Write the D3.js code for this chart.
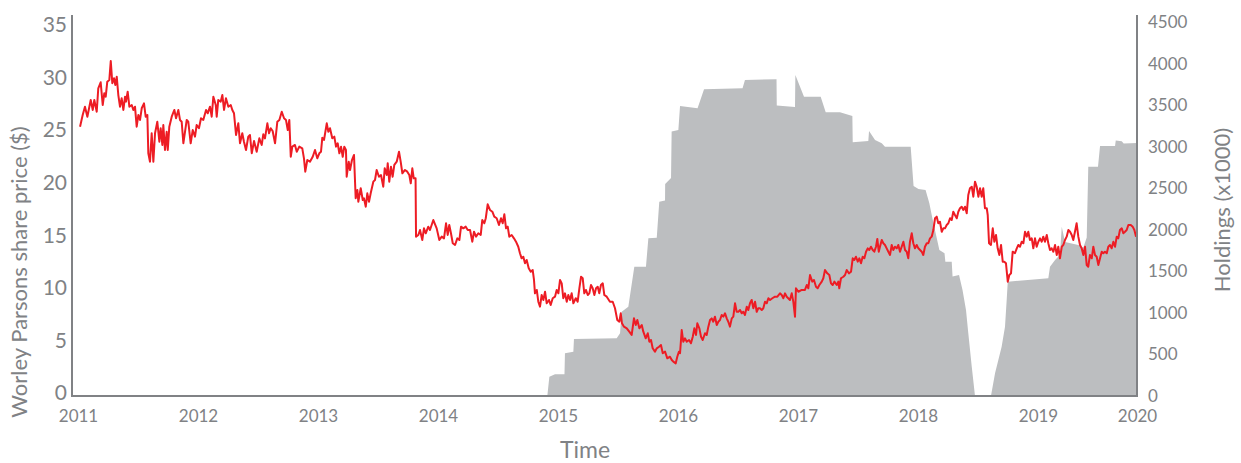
<!DOCTYPE html>
<html>
<head>
<meta charset="utf-8">
<script src="https://cdn.jsdelivr.net/npm/d3@7"></script>
<style>
body { margin: 0; background: #fff; }
</style>
</head>
<body>
<script>
// share price, [decimal year, $]
var priceSeries = [
[2011.017,25.33],[2011.039,26.44],[2011.058,27.23],[2011.078,26.28],[2011.106,27.87],[2011.123,26.92],[2011.136,27.87],[2011.156,26.75],[2011.169,28.98],[2011.189,29.55],
[2011.206,27.39],[2011.219,28.50],[2011.231,28.18],[2011.244,29.61],[2011.261,29.77],[2011.273,31.58],[2011.286,29.46],[2011.300,29.93],[2011.311,29.29],[2011.323,30.08],
[2011.336,28.34],[2011.350,27.23],[2011.364,28.03],[2011.378,26.92],[2011.392,28.18],[2011.400,27.71],[2011.414,28.66],[2011.428,27.23],[2011.448,27.39],[2011.461,26.92],
[2011.475,27.23],[2011.489,25.33],[2011.503,26.44],[2011.517,25.97],[2011.531,27.08],[2011.550,27.55],[2011.564,26.28],[2011.578,26.44],[2011.586,22.80],[2011.600,22.00],
[2011.614,24.70],[2011.628,22.00],[2011.642,24.70],[2011.661,25.80],[2011.678,23.90],[2011.689,25.18],[2011.703,23.59],[2011.711,25.49],[2011.725,23.11],[2011.739,24.85],
[2011.748,23.11],[2011.761,25.33],[2011.781,26.28],[2011.803,26.92],[2011.817,26.13],[2011.836,26.92],[2011.850,25.97],[2011.864,25.80],[2011.878,23.75],[2011.892,24.85],
[2011.906,25.97],[2011.919,25.80],[2011.939,23.75],[2011.956,25.01],[2011.975,24.38],[2011.989,25.49],[2012.008,25.18],[2012.025,26.13],[2012.044,25.97],[2012.067,26.92],
[2012.081,26.60],[2012.100,27.23],[2012.114,26.28],[2012.128,28.18],[2012.148,27.39],[2012.156,26.28],[2012.169,27.87],[2012.189,27.71],[2012.203,28.34],[2012.217,26.92],
[2012.233,28.03],[2012.253,27.23],[2012.273,27.39],[2012.286,26.92],[2012.300,26.60],[2012.317,24.54],[2012.336,25.65],[2012.350,23.75],[2012.369,24.70],[2012.383,23.90],
[2012.400,23.11],[2012.419,24.38],[2012.433,24.54],
[2012.448,22.80],[2012.467,23.97],[2012.489,22.95],[2012.511,24.22],[2012.531,23.59],[2012.544,24.60],[2012.558,24.22],[2012.578,25.65],[2012.592,24.70],[2012.606,25.18],
[2012.622,24.92],[2012.642,23.75],[2012.661,25.80],[2012.678,25.97],[2012.698,26.75],[2012.717,26.13],[2012.733,25.97],[2012.748,25.01],[2012.761,25.97],[2012.773,22.47],
[2012.786,23.43],[2012.808,23.59],[2012.823,22.95],[2012.844,23.43],[2012.869,23.27],[2012.883,22.32],[2012.894,21.05],[2012.911,22.16],[2012.933,22.00],[2012.956,22.47],
[2012.975,23.11],[2012.994,22.32],[2013.011,22.80],[2013.025,22.95],[2013.036,24.28],[2013.050,24.06],[2013.073,25.65],[2013.086,24.85],[2013.100,25.18],[2013.119,24.22],
[2013.136,24.38],[2013.150,23.43],[2013.164,23.75],[2013.178,22.80],[2013.192,23.43],[2013.206,22.47],[2013.219,23.43],[2013.233,23.11],[2013.239,20.57],[2013.256,22.00],
[2013.267,21.21],[2013.283,22.16],[2013.300,22.64],[2013.314,18.52],[2013.328,19.31],[2013.336,18.19],[2013.356,19.47],[2013.373,18.36],[2013.383,18.52],[2013.398,17.72],
[2013.411,18.99],[2013.425,18.19],[2013.439,18.99],[2013.461,20.10],[2013.475,20.26],[2013.489,21.21],[2013.508,20.57],[2013.525,20.73],[2013.544,19.62],[2013.556,21.37],
[2013.573,20.73],[2013.581,21.85],[2013.594,20.10],[2013.608,21.52],[2013.622,20.57],[2013.636,21.69],[2013.656,22.00],[2013.675,22.95],[2013.689,22.00],[2013.703,20.90],
[2013.725,21.21],[2013.744,21.05],[2013.761,20.73],[2013.773,19.94],[2013.786,21.37],[2013.798,20.42],[2013.813,20.42],[2013.817,14.87],[2013.836,15.03],[2013.850,15.50],
[2013.869,14.55],[2013.883,15.66],[2013.898,15.19],[2013.919,15.82],
[2013.933,15.50],[2013.961,16.45],[2013.989,15.66],[2014.011,14.55],[2014.031,14.87],[2014.050,14.71],[2014.067,16.14],[2014.081,15.03],[2014.094,15.98],[2014.108,15.19],
[2014.123,14.24],[2014.142,14.08],[2014.161,14.71],[2014.178,14.55],[2014.192,15.82],[2014.211,15.66],[2014.231,15.82],[2014.248,15.50],[2014.267,15.50],[2014.286,14.39],
[2014.300,15.34],[2014.317,14.87],[2014.336,15.19],[2014.356,15.03],[2014.369,16.45],[2014.386,16.14],[2014.398,16.62],[2014.414,17.95],[2014.433,17.41],[2014.453,17.24],
[2014.469,16.77],[2014.489,16.62],[2014.508,15.98],[2014.525,16.62],[2014.539,16.14],[2014.553,17.00],[2014.567,15.66],[2014.581,15.82],[2014.594,14.87],[2014.614,15.03],
[2014.633,14.71],[2014.650,14.39],[2014.669,13.91],[2014.683,13.29],[2014.697,12.81],[2014.711,12.96],[2014.725,12.34],[2014.739,12.65],[2014.756,11.86],[2014.773,11.54],
[2014.789,11.70],[2014.800,10.75],[2014.808,9.48],[2014.823,9.80],[2014.836,8.68],[2014.850,8.21],[2014.864,9.32],[2014.878,8.85],[2014.892,9.63],[2014.906,8.53],
[2014.925,8.85],[2014.939,8.37],[2014.956,9.01],[2014.975,9.16],[2014.989,9.80],[2015.003,9.48],[2015.017,10.75],[2015.031,10.43],[2015.044,9.01],[2015.058,9.48],
[2015.073,8.68],[2015.086,9.32],[2015.100,8.85],[2015.114,9.48],[2015.128,8.53],[2015.148,9.01],[2015.164,8.68],[2015.178,9.96],[2015.192,11.06],[2015.206,10.91],
[2015.219,9.48],[2015.233,9.80],[2015.248,9.32],[2015.261,9.48],[2015.275,10.27],[2015.289,9.96],[2015.303,9.32],[2015.317,9.96],[2015.331,10.11],[2015.344,9.48],
[2015.358,10.27],[2015.373,10.43],[2015.386,9.32],[2015.406,9.16],[2015.433,8.68],
[2015.456,8.68],[2015.475,8.06],[2015.494,6.94],[2015.511,6.78],[2015.523,7.58],[2015.533,6.63],[2015.550,6.31],[2015.573,6.15],[2015.594,5.83],[2015.614,5.52],
[2015.633,7.10],[2015.648,6.47],[2015.661,6.94],[2015.678,6.15],[2015.698,6.47],[2015.711,5.83],[2015.731,5.20],[2015.748,5.68],[2015.761,4.88],[2015.775,5.04],
[2015.789,4.25],[2015.808,3.93],[2015.823,4.25],[2015.842,4.40],[2015.858,4.57],[2015.873,3.78],[2015.892,3.93],[2015.911,3.30],[2015.933,3.45],[2015.948,3.14],
[2015.961,2.98],[2015.981,2.82],[2015.994,3.45],[2016.008,3.93],[2016.017,3.78],[2016.031,5.99],[2016.044,4.88],[2016.058,5.20],[2016.073,4.88],[2016.092,5.04],
[2016.108,4.73],[2016.123,5.35],[2016.136,6.15],[2016.150,5.52],[2016.161,6.63],[2016.178,6.15],[2016.192,5.35],[2016.206,5.04],[2016.225,5.68],[2016.239,5.52],
[2016.253,6.31],[2016.267,6.94],[2016.281,7.10],[2016.294,6.78],[2016.308,7.26],[2016.323,6.47],[2016.336,6.78],[2016.350,6.94],[2016.364,7.42],[2016.378,7.26],
[2016.392,7.58],[2016.406,7.10],[2016.419,6.78],[2016.433,6.31],[2016.448,7.10],[2016.461,7.26],[2016.475,8.53],[2016.489,7.73],[2016.503,7.73],[2016.517,7.89],
[2016.531,7.58],[2016.544,7.73],[2016.558,7.42],[2016.573,8.21],[2016.586,7.89],[2016.600,8.53],[2016.614,8.85],[2016.628,8.06],[2016.642,8.68],[2016.656,7.73],
[2016.669,8.06],[2016.683,8.06],[2016.698,7.89],[2016.711,8.06],[2016.725,8.68],[2016.739,8.53],[2016.753,9.01],[2016.767,8.85],[2016.786,9.01],[2016.808,9.16],
[2016.828,9.16],[2016.850,9.48],[2016.864,9.32],[2016.878,9.01],[2016.892,9.48],[2016.906,9.16],[2016.933,8.85],
[2016.948,9.48],[2016.961,8.68],[2016.975,7.26],[2016.983,9.96],[2017.003,9.63],[2017.031,9.80],[2017.058,9.80],[2017.073,10.27],[2017.086,9.96],[2017.100,11.22],
[2017.119,10.59],[2017.133,10.75],[2017.150,10.11],[2017.164,9.96],[2017.178,10.27],[2017.198,10.59],[2017.211,10.91],[2017.225,11.70],[2017.244,11.38],[2017.261,11.22],
[2017.275,10.43],[2017.289,10.27],[2017.303,10.59],[2017.323,10.27],[2017.336,10.59],[2017.344,9.96],[2017.358,10.91],[2017.378,11.06],[2017.392,11.22],[2017.406,11.70],
[2017.425,11.38],[2017.442,11.54],[2017.456,12.81],[2017.469,12.65],[2017.483,12.96],[2017.498,12.49],[2017.511,12.81],[2017.525,12.34],[2017.539,12.96],[2017.553,12.81],
[2017.567,13.44],[2017.581,13.76],[2017.594,13.60],[2017.608,13.91],[2017.623,13.60],[2017.636,13.44],[2017.650,13.91],[2017.661,14.65],[2017.673,13.44],[2017.683,13.91],
[2017.698,14.55],[2017.711,14.24],[2017.725,14.08],[2017.739,13.76],[2017.753,13.44],[2017.767,13.13],[2017.781,14.08],[2017.794,13.60],[2017.808,13.91],[2017.823,13.76],
[2017.836,14.08],[2017.850,13.44],[2017.864,13.91],[2017.878,14.39],[2017.892,13.60],[2017.906,13.44],[2017.919,12.81],[2017.933,14.39],[2017.948,15.19],[2017.961,14.24],
[2017.975,13.76],[2017.989,14.08],[2018.003,13.76],[2018.017,13.60],[2018.031,13.44],[2018.044,13.13],[2018.058,13.91],[2018.073,14.24],[2018.086,14.24],[2018.100,14.71],
[2018.114,14.87],[2018.128,15.50],[2018.142,16.62],[2018.156,16.77],[2018.169,16.14],[2018.183,16.29],[2018.198,15.34],[2018.211,15.66],[2018.225,15.66],[2018.239,15.98],
[2018.253,16.14],[2018.267,16.62],[2018.281,16.45],[2018.294,17.24],[2018.308,16.93],[2018.323,16.62],[2018.336,17.24],[2018.350,17.57],[2018.364,17.72],[2018.378,17.41],
[2018.392,17.72],[2018.406,17.09],[2018.419,18.83],
[2018.433,19.47],[2018.448,19.62],[2018.461,18.67],[2018.475,20.10],[2018.489,19.62],[2018.503,18.67],[2018.517,19.47],[2018.531,18.67],[2018.544,19.47],[2018.558,17.57],
[2018.573,17.57],[2018.581,16.93],[2018.592,14.24],[2018.608,14.08],[2018.623,15.66],[2018.636,14.39],[2018.650,15.03],[2018.664,13.76],[2018.678,13.13],[2018.692,14.08],
[2018.706,12.49],[2018.719,12.49],[2018.733,12.34],[2018.748,10.59],[2018.761,11.22],[2018.775,11.38],[2018.789,13.44],[2018.808,13.29],[2018.823,13.76],[2018.836,14.08],
[2018.850,13.91],[2018.864,14.39],[2018.878,14.24],[2018.892,15.34],[2018.906,14.87],[2018.919,15.34],[2018.933,14.55],[2018.948,14.71],[2018.961,13.76],[2018.975,14.71],
[2018.989,13.91],[2019.003,14.39],[2019.017,14.71],[2019.031,14.39],[2019.044,14.87],[2019.058,14.39],[2019.073,15.03],[2019.086,14.24],[2019.100,13.60],[2019.114,13.76],
[2019.128,13.44],[2019.142,14.08],[2019.156,13.13],[2019.169,13.91],[2019.183,12.81],[2019.198,13.91],[2019.211,14.08],[2019.225,14.55],[2019.239,14.87],[2019.253,15.50],
[2019.267,15.34],[2019.281,15.03],[2019.294,14.55],[2019.308,15.34],[2019.322,16.14],[2019.336,14.87],[2019.350,14.08],[2019.364,13.76],[2019.378,13.13],[2019.392,13.91],
[2019.406,12.17],[2019.419,12.01],[2019.433,13.13],[2019.448,12.81],[2019.461,13.91],[2019.475,13.13],[2019.489,12.96],[2019.503,12.17],[2019.517,12.81],[2019.531,13.44],
[2019.544,13.29],[2019.558,13.44],[2019.573,13.29],[2019.586,13.91],[2019.600,14.08],[2019.614,13.76],[2019.628,14.39],[2019.642,13.91],[2019.656,14.87],[2019.669,14.71],
[2019.683,15.50],[2019.698,15.66],[2019.711,15.19],[2019.725,15.34],[2019.739,15.50],[2019.753,15.98],[2019.773,15.98],[2019.789,15.82],[2019.803,15.50],[2019.817,14.87]
];

// holdings (x1000), [decimal year, value]
var holdingsSeries = [
[2014.911,0],[2014.928,232],[2014.975,261],[2015.054,261],[2015.058,514],[2015.128,533],[2015.133,686],[2015.489,694],
[2015.517,755],[2015.531,1014],[2015.586,1075],[2015.636,1556],[2015.733,1556],[2015.753,1898],[2015.823,1905],[2015.844,2338],
[2015.892,2353],[2015.893,2551],[2015.942,2623],[2015.947,3183],[2016.003,3201],[2016.017,3490],[2016.163,3462],[2016.217,3691],
[2016.538,3703],[2016.558,3803],[2016.821,3811],[2016.823,3496],[2016.975,3478],[2016.978,3863],[2017.050,3602],[2017.189,3602],
[2017.231,3414],[2017.350,3414],[2017.453,3370],[2017.456,3053],[2017.586,3069],[2017.592,3189],[2017.642,3081],[2017.698,3041],
[2017.725,3000],[2017.939,3000],[2017.963,2527],[2018.004,2491],[2018.063,2479],[2018.094,2323],[2018.123,2118],[2018.156,1901],
[2018.178,1757],[2018.221,1717],[2018.228,1616],[2018.281,1616],[2018.288,1438],[2018.342,1456],[2018.371,1276],[2018.400,1035],
[2018.419,758],[2018.448,353],[2018.475,0],[2018.608,0],[2018.642,273],[2018.697,593],[2018.725,834],[2018.739,1155],
[2018.748,1375],[2019.086,1416],[2019.100,1556],[2019.142,1637],[2019.183,1697],[2019.198,2037],[2019.225,1853],[2019.336,1817],
[2019.378,1787],[2019.406,1907],[2019.419,2759],[2019.500,2759],[2019.517,3009],[2019.642,3009],[2019.648,3075],[2019.698,3065],
[2019.714,3039],[2019.825,3045]
];

var yearTicks = [2011, 2012, 2013, 2014, 2015, 2016, 2017, 2018, 2019, 2020];
var priceTicks = [0, 5, 10, 15, 20, 25, 30, 35];
var holdingTicks = [0, 500, 1000, 1500, 2000, 2500, 3000, 3500, 4000, 4500];

var grey = '#808285';

var svg = d3.select('body').append('svg')
    .attr('width', 1241)
    .attr('height', 463);

var x = d3.scaleLinear().domain([2010.95, 2019.825]).range([72, 1137]);
var yPrice = d3.scaleLinear().domain([0, 35]).range([393, 25]);
var yHold = d3.scaleLinear().domain([0, 4500]).range([396, 22]);

// holdings area in the back
svg.append('path')
    .datum(holdingsSeries)
    .attr('fill', '#bcbec0')
    .attr('d', d3.area()
        .x(function(d) { return x(d[0]); })
        .y0(yHold(0))
        .y1(function(d) { return yHold(d[1]); }));

// share price line
svg.append('path')
    .datum(priceSeries)
    .attr('fill', 'none')
    .attr('stroke', '#ed1c24')
    .attr('stroke-width', 2)
    .attr('stroke-linejoin', 'round')
    .attr('d', d3.line()
        .x(function(d) { return x(d[0]); })
        .y(function(d) { return yPrice(d[1]); }));

// left axis labels
svg.append('g')
    .attr('transform', 'translate(72,0)')
    .call(d3.axisLeft(yPrice).tickValues(priceTicks).tickSize(0).tickPadding(5))
    .call(function(g) { g.select('.domain').remove(); })
    .attr('font-family', 'Lato')
    .attr('font-size', 21)
    .attr('color', grey);

// right axis labels
svg.append('g')
    .attr('transform', 'translate(1137,0)')
    .call(d3.axisRight(yHold).tickValues(holdingTicks).tickFormat(d3.format('d')).tickSize(0).tickPadding(11))
    .call(function(g) { g.select('.domain').remove(); })
    .attr('font-family', 'Lato')
    .attr('font-size', 17)
    .attr('color', grey);

// bottom axis labels, last label sits at the end of the axis
var xEnd = x.domain()[1];
svg.append('g')
    .attr('transform', 'translate(0,396)')
    .call(d3.axisBottom(x)
        .tickValues(yearTicks.map(function(t) { return Math.min(t, xEnd); }))
        .tickFormat(function(d, i) { return yearTicks[i]; })
        .tickSize(0).tickPadding(14))
    .call(function(g) { g.select('.domain').remove(); })
    .attr('font-family', 'Lato')
    .attr('font-size', 17)
    .attr('color', grey);

// axis lines
svg.append('line').attr('x1', 72).attr('x2', 72).attr('y1', 15).attr('y2', 397)
    .attr('stroke', grey).attr('stroke-width', 2);
svg.append('line').attr('x1', 1137).attr('x2', 1137).attr('y1', 15).attr('y2', 397)
    .attr('stroke', grey).attr('stroke-width', 2);
svg.append('line').attr('x1', 71).attr('x2', 1138).attr('y1', 396).attr('y2', 396)
    .attr('stroke', grey).attr('stroke-width', 2);

// titles
svg.append('text')
    .attr('transform', 'translate(27,272) rotate(-90)')
    .attr('text-anchor', 'middle')
    .attr('font-family', 'Lato')
    .attr('font-size', 22)
    .attr('fill', grey)
    .text('Worley Parsons share price ($)');

svg.append('text')
    .attr('transform', 'translate(1230,210) rotate(-90)')
    .attr('text-anchor', 'middle')
    .attr('font-family', 'Lato')
    .attr('font-size', 22)
    .attr('fill', grey)
    .text('Holdings (x1000)');

svg.append('text')
    .attr('x', 585)
    .attr('y', 458)
    .attr('text-anchor', 'middle')
    .attr('font-family', 'Lato')
    .attr('font-size', 23)
    .attr('fill', grey)
    .text('Time');
</script>
</body>
</html>
